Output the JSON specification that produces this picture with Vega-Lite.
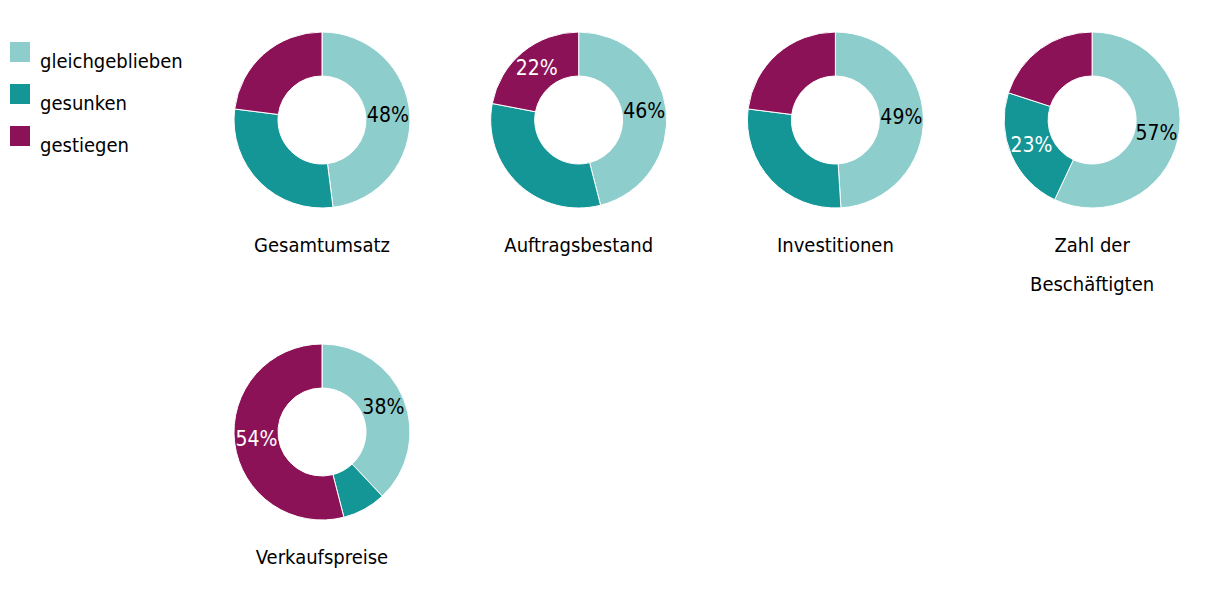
{
  "$schema": "https://vega.github.io/schema/vega-lite/v6.json",
  "padding": {"left": 0, "top": 30, "right": 5, "bottom": 5},
  "background": "white",
  "data": {
    "values": [
      {"kategorie": "Gesamtumsatz", "antwort": "gleichgeblieben", "ord": 1, "anteil": 48, "label": "48%"},
      {"kategorie": "Gesamtumsatz", "antwort": "gesunken", "ord": 2, "anteil": 29, "label": ""},
      {"kategorie": "Gesamtumsatz", "antwort": "gestiegen", "ord": 3, "anteil": 23, "label": ""},
      {"kategorie": "Auftragsbestand", "antwort": "gleichgeblieben", "ord": 1, "anteil": 46, "label": "46%"},
      {"kategorie": "Auftragsbestand", "antwort": "gesunken", "ord": 2, "anteil": 32, "label": ""},
      {"kategorie": "Auftragsbestand", "antwort": "gestiegen", "ord": 3, "anteil": 22, "label": "22%"},
      {"kategorie": "Investitionen", "antwort": "gleichgeblieben", "ord": 1, "anteil": 49, "label": "49%"},
      {"kategorie": "Investitionen", "antwort": "gesunken", "ord": 2, "anteil": 28, "label": ""},
      {"kategorie": "Investitionen", "antwort": "gestiegen", "ord": 3, "anteil": 23, "label": ""},
      {"kategorie": "Zahl der|Beschäftigten", "antwort": "gleichgeblieben", "ord": 1, "anteil": 57, "label": "57%"},
      {"kategorie": "Zahl der|Beschäftigten", "antwort": "gesunken", "ord": 2, "anteil": 23, "label": "23%"},
      {"kategorie": "Zahl der|Beschäftigten", "antwort": "gestiegen", "ord": 3, "anteil": 20, "label": ""},
      {"kategorie": "Verkaufspreise", "antwort": "gleichgeblieben", "ord": 1, "anteil": 38, "label": "38%"},
      {"kategorie": "Verkaufspreise", "antwort": "gesunken", "ord": 2, "anteil": 8, "label": ""},
      {"kategorie": "Verkaufspreise", "antwort": "gestiegen", "ord": 3, "anteil": 54, "label": "54%"}
    ]
  },
  "facet": {
    "field": "kategorie",
    "type": "nominal",
    "sort": ["Gesamtumsatz", "Auftragsbestand", "Investitionen", "Zahl der|Beschäftigten", "Verkaufspreise"],
    "header": {
      "title": null,
      "labelOrient": "bottom",
      "labelExpr": "split(datum.value, '|')",
      "labelFont": "DejaVu Sans Condensed",
      "labelFontSize": 20,
      "labelColor": "#000000",
      "labelBaseline": "top",
      "labelPadding": 26,
      "labelLineHeight": 39
    }
  },
  "columns": 4,
  "spacing": {"column": 76.7, "row": 47},
  "spec": {
    "width": 176,
    "height": 176,
    "encoding": {
      "theta": {"field": "anteil", "type": "quantitative", "stack": true},
      "order": {"field": "ord", "type": "quantitative"}
    },
    "layer": [
      {
        "mark": {"type": "arc", "innerRadius": 44, "outerRadius": 88, "stroke": "white", "strokeWidth": 1},
        "encoding": {
          "color": {
            "field": "antwort",
            "type": "nominal",
            "scale": {"domain": ["gleichgeblieben", "gesunken", "gestiegen"], "range": ["#8dcdcc", "#159696", "#8c1258"]},
            "legend": {
              "title": null,
              "orient": "left",
              "symbolType": "square",
              "symbolSize": 400,
              "symbolStrokeWidth": 0,
              "labelFont": "DejaVu Sans Condensed",
              "labelFontSize": 20,
              "labelColor": "#000000",
              "labelBaseline": "top",
              "labelOffset": 10,
              "rowPadding": 12,
              "padding": 10,
              "offset": 39
            }
          }
        }
      },
      {
        "mark": {"type": "text", "radius": 66, "font": "DejaVu Sans Condensed", "fontSize": 21, "align": "center", "baseline": "middle"},
        "encoding": {
          "text": {"field": "label"},
          "color": {"condition": {"test": "datum.antwort === 'gleichgeblieben'", "value": "#000000"}, "value": "#ffffff"}
        }
      }
    ]
  },
  "config": {"view": {"stroke": null}}
}
